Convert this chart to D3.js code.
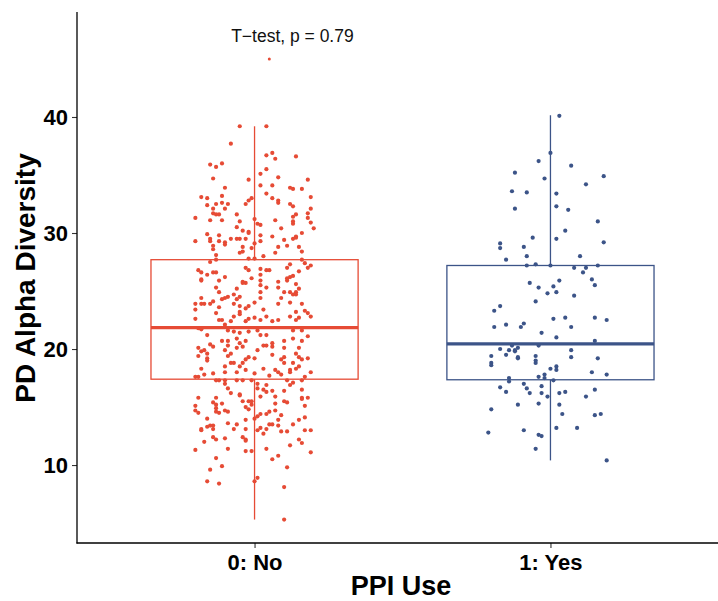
<!DOCTYPE html>
<html>
<head>
<meta charset="utf-8">
<script src="https://cdn.jsdelivr.net/npm/d3@7"></script>
<style>
  body { margin: 0; background: #fff; }
  text { font-family: "Liberation Sans", Arial, sans-serif; }
</style>
</head>
<body>
<div class="canvas"></div>
<script>
const [width, height] = [718, 601];

// groups
const groups = ['0: No', '1: Yes'];
const colors = ['#E64B35', '#3C5488'];

// box stats
const q1 = [17.4, 17.35];
const medians = [21.85, 20.45];
const q3 = [27.7, 27.2];
const whiskLow = [5.3, 10.4];
const whiskHigh = [39.2, 40.15];

const yTicks = [10, 20, 30, 40];
const pLabel = 'T\u2212test, p = 0.79';

// jittered points, 0: No  (jitter offset in group units, value)
const noJitter = [
-0.05,0.04,-0.08,0.04,0.06,0.07,0.14,-0.15,-0.13,-0.11,0.04,0.02,-0.14,-0.02,0.08,0.18,-0.10,0.02,0.06,0.12,0.13,0.16,
-0.18,-0.16,-0.11,-0.02,-0.01,0.04,0.06,0.08,0.08,0.19,-0.16,-0.13,-0.11,-0.09,-0.14,-0.10,-0.03,0.12,0.13,0.19,
-0.14,-0.13,-0.12,-0.06,0.14,0.13,0.18,-0.20,-0.15,-0.11,-0.05,0.00,0.01,0.02,0.07,0.13,0.13,0.18,0.19,
-0.06,0.09,0.20,-0.04,-0.02,-0.02,-0.16,-0.12,0.02,0.16,0.06,0.14,-0.20,-0.15,-0.15,-0.12,-0.10,-0.08,-0.06,-0.05,-0.03,0.02,0.10,0.13,0.14,
-0.14,-0.10,-0.04,-0.01,0.00,0.08,0.11,0.15,
-0.14,-0.05,-0.04,0.07,0.16,-0.13,-0.13,-0.15,-0.02,0.00,0.03,0.16,0.17,0.19,0.18,0.12,0.11,
-0.19,-0.18,-0.16,-0.14,-0.13,-0.03,-0.02,0.02,0.04,0.05,0.15,0.02,-0.18,-0.18,-0.12,-0.10,-0.01,0.02,0.11,0.12,0.13,
-0.04,-0.04,-0.03,0.08,0.11,0.02,-0.13,0.04,0.08,0.14,0.15,-0.06,-0.12,0.02,0.10,0.12,0.14,0.13,
-0.07,-0.05,-0.06,-0.09,-0.10,-0.11,-0.14,-0.18,0.02,0.09,0.14,-0.20,-0.18,-0.17,-0.15,-0.07,-0.05,-0.02,0.00,0.08,0.12,0.16,
-0.12,-0.03,0.03,0.17,0.18,-0.20,0.14,-0.13,-0.05,-0.05,-0.07,0.00,0.04,0.12,0.19,
-0.20,-0.12,-0.11,-0.08,-0.02,-0.03,0.02,0.06,0.08,0.14,0.15,
-0.10,-0.19,-0.18,-0.09,-0.07,-0.05,-0.02,0.01,0.02,0.04,0.13,0.16,0.18,-0.16,0.13,-0.11,-0.09,-0.06,-0.05,-0.03,0.06,0.03,0.04,0.10,0.16,
-0.19,-0.14,-0.15,-0.09,-0.06,-0.04,0.06,0.10,0.15,-0.18,-0.17,-0.16,-0.10,-0.08,0.01,0.14,
-0.19,-0.16,-0.16,-0.09,-0.02,0.00,0.06,0.10,0.09,0.15,0.18,-0.03,-0.04,-0.08,-0.07,0.10,0.13,0.16,
-0.10,-0.05,0.03,0.15,-0.18,-0.10,-0.06,-0.03,0.07,0.08,0.19,0.12,0.12,0.14,
-0.17,-0.20,-0.19,-0.14,0.00,0.09,0.05,0.17,-0.13,-0.12,-0.10,-0.06,-0.04,-0.01,0.11,0.13,0.16,
-0.10,-0.09,0.01,0.04,0.12,0.01,0.03,0.04,0.06,0.10,0.16,-0.08,-0.05,-0.05,0.07,0.16,-0.19,-0.13,0.02,0.18,
-0.20,-0.14,-0.13,-0.11,-0.13,-0.13,-0.12,-0.10,-0.09,-0.20,-0.19,-0.04,-0.02,-0.03,-0.02,-0.01,-0.01,0.07,0.10,0.11,0.17,0.16,
0.02,0.01,0.04,0.05,0.07,0.09,-0.16,-0.09,-0.03,0.00,0.08,0.15,0.17,0.13,
-0.18,-0.18,-0.16,-0.15,-0.14,-0.14,-0.07,-0.06,-0.03,0.01,0.02,0.04,0.05,0.06,0.08,0.09,0.11,0.17,0.19,0.03,
-0.14,-0.13,-0.10,-0.04,-0.03,-0.03,-0.17,0.12,0.15,0.16,
-0.20,-0.09,-0.03,-0.01,0.04,0.19,-0.13,0.08,0.06,-0.11,-0.15,0.11,0.00,0.01,-0.16,-0.12,0.10,0.10
];
const noValues = [
39.2,39.2,37.7,36.7,36.9,36.4,36.6,35.9,35.7,36.0,35.5,35.1,34.7,34.6,34.8,34.6,33.9,34.1,34.1,33.9,33.8,33.8,
33.1,33.0,33.2,32.8,33.0,33.4,33.0,32.8,32.6,33.1,32.4,32.5,32.6,32.5,32.1,32.1,32.5,32.5,32.3,32.1,
31.7,31.6,31.6,31.6,31.6,31.4,31.7,31.3,31.1,31.1,31.0,31.2,30.8,30.7,31.1,31.0,30.8,31.3,30.9,
30.5,30.4,30.4,30.2,30.1,30.0,29.9,29.8,29.8,30.0,29.7,29.7,29.3,29.5,29.3,29.3,29.2,29.5,29.5,29.5,29.5,29.3,29.4,29.5,29.6,
28.9,29.0,28.8,28.7,29.1,28.8,28.9,28.8,
28.6,28.3,28.4,28.3,28.4,28.1,27.7,27.5,27.8,27.8,28.0,27.7,27.4,27.2,27.0,27.3,27.0,
26.8,26.6,26.4,26.6,26.6,27.0,26.8,26.9,26.8,26.8,26.7,26.4,26.0,25.9,25.9,26.2,26.1,25.9,26.1,26.2,26.3,
25.8,25.7,25.7,25.8,25.9,25.5,25.3,25.3,25.3,25.6,25.2,25.2,24.9,24.9,24.9,24.9,24.9,24.7,
24.7,24.5,24.3,24.5,24.4,24.3,24.1,24.4,24.4,24.4,24.7,23.9,23.9,23.9,23.9,23.9,23.7,23.7,24.0,23.9,24.0,23.9,
23.6,23.5,23.4,23.3,23.1,23.4,23.2,23.1,23.2,23.0,22.8,22.7,22.8,22.8,22.8,
22.6,22.5,22.5,22.4,22.6,22.4,22.5,22.4,22.5,22.5,22.7,
22.1,21.8,21.7,21.6,21.5,21.4,21.5,21.6,21.2,21.2,21.6,21.6,21.1,21.2,20.9,20.7,20.7,20.9,20.5,20.7,20.5,20.3,20.3,20.7,20.7,
20.1,20.2,20.4,20.3,20.1,20.2,20.2,20.1,20.1,19.8,19.9,19.6,19.9,19.6,19.9,19.6,
19.4,19.2,19.0,19.4,19.3,19.2,19.5,19.3,19.1,19.3,19.2,19.1,18.8,18.8,18.8,18.8,18.8,19.1,
18.5,18.5,18.3,18.5,18.3,18.0,18.0,18.2,18.2,18.0,18.0,18.2,18.0,18.3,
17.8,17.6,17.6,17.9,17.9,17.8,17.7,17.6,17.3,17.3,17.3,17.3,17.3,17.3,17.3,17.1,17.3,
17.0,16.6,17.0,16.9,16.9,16.6,16.5,16.3,16.4,16.4,16.5,16.2,16.1,16.0,15.9,15.8,15.8,15.8,15.9,15.8,
15.1,15.4,15.2,15.3,14.9,14.6,14.5,14.7,14.6,14.7,14.5,15.5,15.5,15.0,14.8,15.2,15.5,15.3,15.5,15.4,15.1,15.7,
14.4,14.2,14.4,14.6,14.7,14.3,14.0,13.6,13.9,14.0,13.9,13.9,14.1,13.5,
13.1,13.0,13.3,13.4,13.4,13.1,13.1,13.5,13.1,13.0,13.2,13.1,13.5,13.5,13.4,12.9,12.9,13.0,13.0,12.7,
12.4,12.2,12.3,12.4,12.2,12.1,12.0,11.7,12.2,11.9,
11.3,11.4,11.2,11.2,11.4,11.1,10.6,10.8,10.5,9.9,9.6,9.8,8.6,8.9,8.6,8.4,8.1,5.3
];

// the lone high point in 0: No
const noHighJitter = [0.05];
const noHighValues = [45.0];

// jittered points, 1: Yes
const yesJitter = [
0.03,0.00,-0.04,0.07,-0.12,-0.02,0.18,0.12,-0.13,-0.08,0.02,-0.12,0.02,0.06,0.16,0.05,-0.06,0.02,-0.17,-0.17,-0.09,0.18,
-0.08,-0.15,0.10,-0.08,-0.05,0.00,0.08,0.12,0.11,0.16,0.14,0.15,-0.07,-0.04,0.03,0.01,-0.01,0.02,0.08,-0.05,-0.17,-0.19,
0.01,0.05,0.15,0.19,-0.15,-0.09,-0.10,-0.19,0.07,-0.03,0.02,0.15,-0.04,-0.17,-0.13,-0.14,-0.12,-0.12,-0.11,0.07,
-0.20,-0.15,-0.11,-0.11,-0.05,0.07,0.16,-0.20,-0.20,-0.05,-0.05,0.00,0.02,0.02,0.14,0.19,-0.02,-0.04,-0.02,0.01,
-0.14,-0.14,-0.09,-0.03,-0.17,-0.08,-0.15,-0.07,-0.03,0.03,0.05,-0.01,0.15,0.12,-0.11,-0.04,0.03,-0.20,0.04,0.15,0.17,
-0.21,-0.09,-0.04,-0.03,0.02,0.09,-0.05,0.19
];
const yesValues = [
40.1,36.9,36.2,35.8,35.2,34.7,34.9,34.2,33.6,33.5,33.4,32.1,32.3,32.0,31.0,30.2,29.6,29.5,29.1,28.7,28.8,29.2,
28.0,27.7,28.0,27.2,27.3,27.2,27.0,27.0,26.6,27.2,26.0,25.5,25.7,25.3,25.9,25.4,24.8,24.9,24.6,24.1,23.7,23.3,
22.6,22.7,22.7,22.5,22.1,22.2,21.9,21.9,21.9,21.4,21.0,20.7,20.3,20.0,20.3,19.9,19.9,19.8,20.1,19.9,
19.4,19.5,19.3,19.2,19.4,19.3,19.2,18.8,18.6,18.8,19.0,18.3,18.5,18.2,18.0,17.8,17.8,17.6,17.5,17.3,
17.5,17.2,17.0,16.8,16.7,16.6,16.3,16.2,16.2,16.2,16.3,15.9,16.5,15.9,15.2,15.3,15.2,14.8,14.4,14.3,14.4,
12.8,13.0,12.6,12.5,13.2,13.2,11.4,10.4
];

const pointSets = [
  {g: 0, jitter: noJitter, values: noValues, r: 2.1},
  {g: 0, jitter: noHighJitter, values: noHighValues, r: 1.5},
  {g: 1, jitter: yesJitter, values: yesValues, r: 2.1}
];

const svg = d3.select('.canvas')
              .append('svg')
              .attr('width', width)
              .attr('height', height);

const x = d3.scalePoint()
            .domain(groups)
            .range([77, 728])
            .padding(0.6);
const step = x.step();

const y = d3.scaleLinear()
            .domain([3.28, 49.05])
            .range([543, 12]);

// points
pointSets.forEach(set => {
  const pts = set.values.map((v, i) => ({v: v, j: set.jitter[i]}));
  svg.append('g')
     .selectAll('circle')
     .data(pts)
     .enter()
     .append('circle')
     .attr('cx', d => x(groups[set.g]) + d.j * step)
     .attr('cy', d => y(d.v))
     .attr('r', set.r)
     .attr('fill', colors[set.g]);
});

// boxes
const boxW = 0.7 * step;
groups.forEach((g, i) => {
  const cx = x(g);
  const bg = svg.append('g')
                .attr('stroke', colors[i])
                .attr('fill', 'none');
  bg.append('line')
    .attr('x1', cx).attr('x2', cx)
    .attr('y1', y(q3[i])).attr('y2', y(whiskHigh[i]))
    .attr('stroke-width', 1.3);
  bg.append('line')
    .attr('x1', cx).attr('x2', cx)
    .attr('y1', y(q1[i])).attr('y2', y(whiskLow[i]))
    .attr('stroke-width', 1.3);
  bg.append('rect')
    .attr('x', cx - boxW / 2)
    .attr('y', y(q3[i]))
    .attr('width', boxW)
    .attr('height', y(q1[i]) - y(q3[i]))
    .attr('stroke-width', 1.3);
  bg.append('line')
    .attr('x1', cx - boxW / 2).attr('x2', cx + boxW / 2)
    .attr('y1', y(medians[i])).attr('y2', y(medians[i]))
    .attr('stroke-width', 3.2);
});

// axes
const yAxis = svg.append('g')
                 .attr('transform', 'translate(77,0)')
                 .call(d3.axisLeft(y).tickValues(yTicks).tickSize(5).tickPadding(4));
const xAxis = svg.append('g')
                 .attr('transform', 'translate(0,543)')
                 .call(d3.axisBottom(x).tickSize(5).tickPadding(6));

[yAxis, xAxis].forEach(ax => {
  ax.select('.domain').remove();
  ax.selectAll('.tick line').attr('stroke', '#333').attr('stroke-width', 1.1);
  ax.selectAll('.tick text')
    .attr('fill', '#000')
    .style('font-size', '22px')
    .style('font-weight', 'bold')
    .style('font-family', '"Liberation Sans", Arial, sans-serif');
});
yAxis.selectAll('.tick text').attr('dy', '0.36em');

svg.append('line')
   .attr('x1', 77).attr('x2', 77)
   .attr('y1', 12).attr('y2', 543.5)
   .attr('stroke', '#000').attr('stroke-width', 1.3);
svg.append('line')
   .attr('x1', 76.5).attr('x2', 718)
   .attr('y1', 543).attr('y2', 543)
   .attr('stroke', '#000').attr('stroke-width', 1.3);

// titles
svg.append('text')
   .attr('transform', 'translate(35,278) rotate(-90)')
   .attr('text-anchor', 'middle')
   .style('font-size', '28px')
   .style('font-weight', 'bold')
   .text('PD Alpha Diversity');

svg.append('text')
   .attr('x', 401)
   .attr('y', 595)
   .attr('text-anchor', 'middle')
   .style('font-size', '27px')
   .style('font-weight', 'bold')
   .text('PPI Use');

// test label
svg.append('text')
   .attr('x', x(groups[0]) + 0.128 * step)
   .attr('y', y(46.5))
   .attr('text-anchor', 'middle')
   .style('font-size', '17.5px')
   .attr('fill', '#111')
   .text(pLabel);
</script>
</body>
</html>
